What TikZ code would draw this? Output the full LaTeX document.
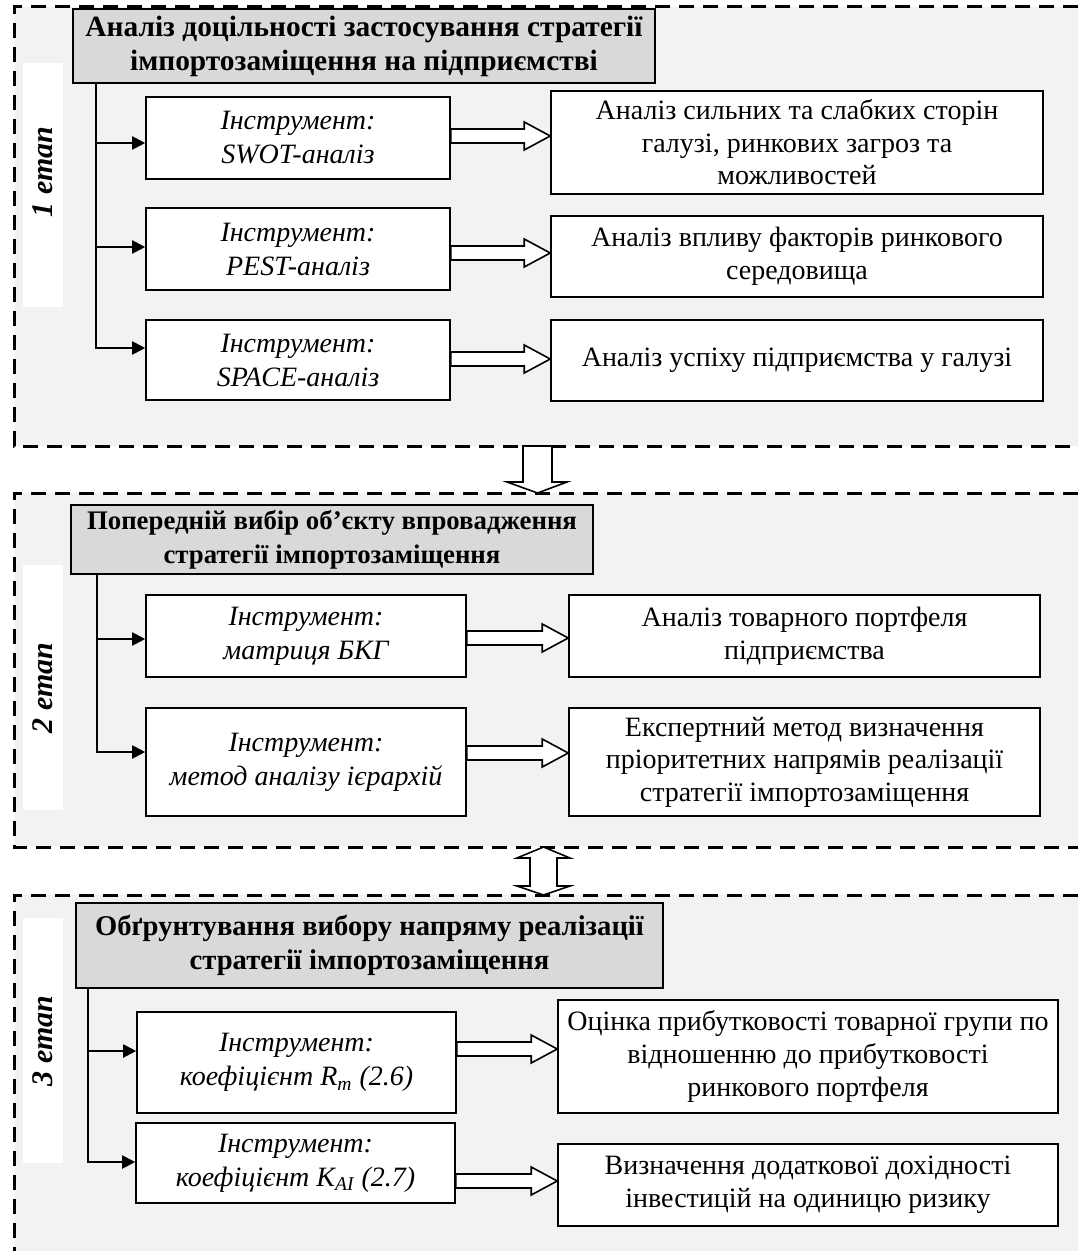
\documentclass[tikz,border=0pt]{standalone}
\usepackage{fontspec}
\setmainfont{Liberation Serif}
\usepackage{tikz}
\usetikzlibrary{arrows.meta,calc}
\definecolor{panelgray}{RGB}{242,242,242}
\definecolor{headgray}{RGB}{217,217,217}

\begin{document}
\begin{tikzpicture}[
    x=0.5pt, y=-0.5pt,
    every node/.style={font=\fontsize{14}{16.3}\selectfont, align=center, inner sep=0pt},
    head/.style={draw, line width=0.8pt, fill=headgray},
    tool/.style={draw, line width=0.8pt, fill=white, font=\fontsize{14}{17}\selectfont\itshape},
    res/.style={draw, line width=0.8pt, fill=white},
    stage/.style={rotate=90, font=\fontsize{15}{17}\selectfont\bfseries\itshape},
    frame/.style={line width=1.5pt, dash pattern=on 7.5pt off 4.5pt},
    arr/.style={-{Triangle[length=6.5pt,width=6.5pt]}, line width=1pt},
    hollow/.style={draw, fill=white, line width=0.8pt, line join=miter}
]
\useasboundingbox (0,0) rectangle (1078,1251);

% panels
\fill[panelgray] (14,7) rectangle (1078,446);
\fill[panelgray] (14,493) rectangle (1078,847);
\fill[panelgray] (14,895) rectangle (1078,1251);
\draw[frame] (1078,7) -- (14,7) -- (14,446) -- (1078,446);
\draw[frame] (1078,493) -- (14,493) -- (14,847) -- (1078,847);
\draw[frame] (1078,895) -- (14,895) -- (14,1251);
\fill[white] (23,63) rectangle (63,307);
\fill[white] (23,565) rectangle (63,810);
\fill[white] (23,918) rectangle (63,1163);

% arrows between stages
\draw[hollow] (523,446) -- (523,482) -- (507,482) -- (537.5,493) -- (567,482) -- (552,482) -- (552,446) -- cycle;
\draw[hollow] (530,858) -- (517,858) -- (543.5,847) -- (570,858) -- (557,858) -- (557,886) -- (570,886) -- (543.5,895) -- (517,886) -- (530,886) -- cycle;

% stage 1
\node[head, minimum width=291pt, minimum height=37pt, font=\fontsize{14.7}{17}\selectfont\bfseries] (h1) at (364,46) {Аналіз доцільності застосування стратегії\\імпортозаміщення на підприємстві};
\node[stage] (s1) at (43,172) {1 етап};
\node[tool, minimum width=152pt, minimum height=41pt] (t11) at (298,138) {Інструмент:\\SWOT-аналіз};
\node[tool, minimum width=152pt, minimum height=41pt] (t12) at (298,249) {Інструмент:\\PEST-аналіз};
\node[tool, minimum width=152pt, minimum height=40pt] (t13) at (298,360) {Інструмент:\\SPACE-аналіз};
\node[res, minimum width=246pt, minimum height=51.5pt] (r11) at (797,142.5) {Аналіз сильних та слабких сторін\\галузі, ринкових загроз та\\можливостей};
\node[res, minimum width=246pt, minimum height=40.5pt] (r12) at (797,256.5) {Аналіз впливу факторів ринкового\\середовища};
\node[res, minimum width=246pt, minimum height=40.5pt] (r13) at (797,360.5) {Аналіз успіху підприємства у галузі};

% stage 2
\node[head, minimum width=261pt, minimum height=34.5pt, font=\fontsize{13.4}{17}\selectfont\bfseries] (h2) at (332,539.5) {Попередній вибір об’єкту впровадження\\стратегії імпортозаміщення};
\node[stage] (s2) at (43,688) {2 етап};
\node[tool, minimum width=160pt, minimum height=41pt] (t21) at (306,636) {Інструмент:\\матриця БКГ};
\node[tool, minimum width=160pt, minimum height=54pt] (t22) at (306,762) {Інструмент:\\метод аналізу ієрархій};
\node[res, minimum width=235.5pt, minimum height=41pt] (r21) at (804.5,636) {Аналіз товарного портфеля\\підприємства};
\node[res, minimum width=235.5pt, minimum height=54pt] (r22) at (804.5,762) {Експертний метод визначення\\пріоритетних напрямів реалізації\\стратегії імпортозаміщення};

% stage 3
\node[head, minimum width=293.5pt, minimum height=42.5pt, font=\fontsize{14.3}{17}\selectfont\bfseries] (h3) at (369.5,945.5) {Обґрунтування вибору напряму реалізації\\стратегії імпортозаміщення};
\node[stage] (s3) at (43,1041) {3 етап};
\node[tool, minimum width=159.5pt, minimum height=50.5pt] (t31) at (296.5,1062.5) {Інструмент:\\коефіцієнт R\textsubscript{m} (2.6)};
\node[tool, minimum width=159.5pt, minimum height=40pt] (t32) at (295.5,1163) {Інструмент:\\коефіцієнт K\textsubscript{AI} (2.7)};
\node[res, minimum width=250pt, minimum height=56.5pt] (r31) at (808,1056.5) {Оцінка прибутковості товарної групи по\\відношенню до прибутковості\\ринкового портфеля};
\node[res, minimum width=250pt, minimum height=41pt] (r32) at (808,1185) {Визначення додаткової дохідності\\інвестицій на одиницю ризику};

% tree lines
\coordinate (v1) at (96,348);
\coordinate (v2) at (97,752);
\coordinate (v3) at (88,1162);
\draw[arr] (h1.south -| v1) |- (t13.west |- v1);
\draw[arr] (h2.south -| v2) |- (t22.west |- v2);
\draw[arr] (h3.south -| v3) |- (t32.west |- v3);
\foreach \v/\t/\y in {v1/t11/143, v1/t12/247, v2/t21/639, v3/t31/1051}
  \draw[arr] (\v |- 0,\y) -- (\t.west |- 0,\y);

% tool -> result
\foreach \a/\b/\y in {t11/r11/136, t12/r12/253, t13/r13/359, t21/r21/638, t22/r22/753, t31/r31/1049, t32/r32/1181}
  \draw[hollow] ($(\a.east |- 0,\y)+(0,-7)$) -- ($(\b.west |- 0,\y)+(-26,-7)$) -- ++(0,-7) -- (\b.west |- 0,\y) -- ($(\b.west |- 0,\y)+(-26,14)$) -- ++(0,-7) -- ($(\a.east |- 0,\y)+(0,7)$) -- cycle;
\end{tikzpicture}
\end{document}
